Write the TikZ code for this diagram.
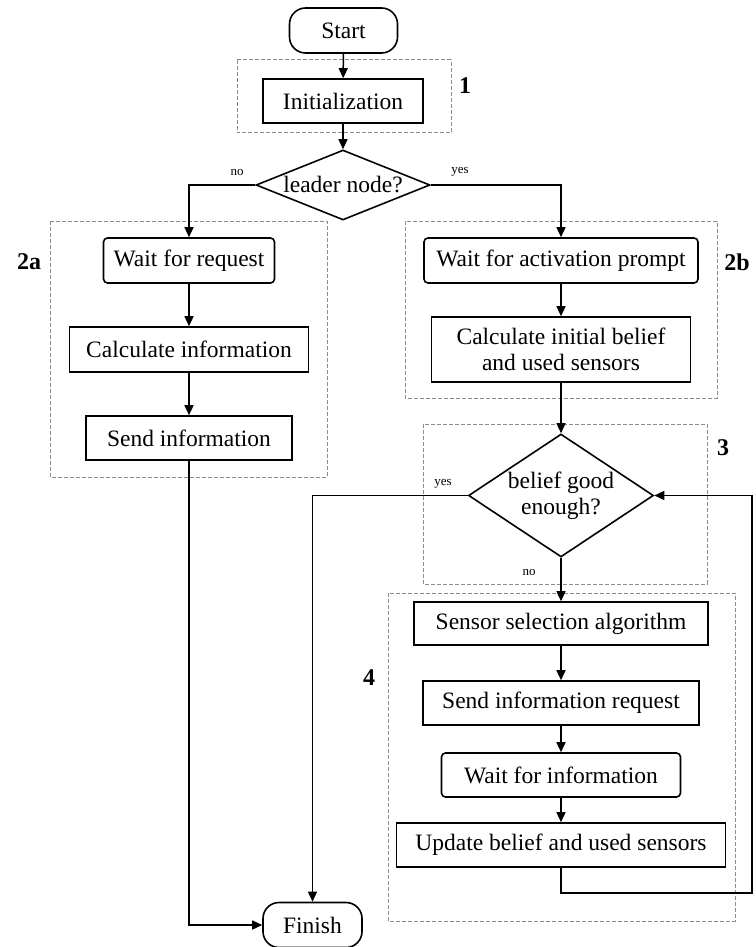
\documentclass[tikz,border=0pt]{standalone}
\usepackage{fontspec}
\setmainfont{Liberation Serif}
\usetikzlibrary{arrows.meta,shapes.geometric}
\begin{document}
\begin{tikzpicture}[x=1pt,y=-1pt,
  every node/.style={font=\fontsize{23.5}{26}\selectfont},
  proc/.style={draw,line width=1.6pt,inner sep=0pt,align=center},
  rproc/.style={proc,rounded corners=4pt},
  term/.style={proc,rounded corners=16pt},
  decision/.style={draw,line width=1.6pt,diamond,inner sep=0pt,align=center},
  flow/.style={line width=1.5pt,-{Triangle[length=10pt,width=9pt]}},
  groupbox/.style={draw=black!45,line width=1pt,dash pattern=on 4pt off 2pt},
  grouplabel/.style={font=\fontsize{24}{26}\selectfont\bfseries},
  answer/.style={font=\fontsize{13}{14}\selectfont}]
\useasboundingbox (0,0) rectangle (755,947);

% groups
\draw[groupbox] (237,60) rectangle (451,133);
\draw[groupbox] (50,221) rectangle (327,477);
\draw[groupbox] (405,221) rectangle (717,398);
\draw[groupbox] (423,424) rectangle (707,584);
\draw[groupbox] (388,593) rectangle (735,921);

\node[grouplabel] (l1) at (465,86) {1};
\node[grouplabel] (l2a) at (29,262) {2a};
\node[grouplabel] (l2b) at (737,262) {2b};
\node[grouplabel] (l3) at (723,448) {3};
\node[grouplabel] (l4) at (369,678) {4};

% nodes
\node[term,minimum width=108pt,minimum height=45pt] (start) at (343.5,30.5) {Start};
\node[proc,minimum width=160pt,minimum height=44pt] (init) at (343,101) {Initialization};
\node[decision,minimum width=174pt,minimum height=70pt,shape aspect=2.49] (leader) at (343,185) {leader node?};

\node[rproc,minimum width=171pt,minimum height=45pt] (wreq) at (189,260.5) {Wait for request};
\node[proc,minimum width=239pt,minimum height=45pt] (calcinfo) at (189,349.5) {Calculate information};
\node[proc,minimum width=206pt,minimum height=44pt] (sendinfo) at (189,438) {Send information};

\node[rproc,minimum width=274pt,minimum height=45pt] (wact) at (561,260.5) {Wait for activation prompt};
\node[proc,minimum width=259pt,minimum height=65pt] (calcinit) at (561,349.5) {Calculate initial belief\\and used sensors};

\node[decision,minimum width=185pt,minimum height=123pt,shape aspect=1.5] (belief) at (561,495.5) {belief good\\enough?};

\node[proc,minimum width=294pt,minimum height=43pt] (ssa) at (561,623.5) {Sensor selection algorithm};
\node[proc,minimum width=276pt,minimum height=44pt] (sir) at (561,703) {Send information request};
\node[rproc,minimum width=239pt,minimum height=44pt] (wfi) at (561,775) {Wait for information};
\node[proc,minimum width=329pt,minimum height=44pt] (upd) at (561,845) {Update belief and used sensors};

\node[term,minimum width=99pt,minimum height=45pt] (finish) at (312.5,925) {Finish};

\coordinate (loopc) at (752,893);

% answers
\node[answer] (no1) at (237,172) {no};
\node[answer] (yes1) at (460,172) {yes};
\node[answer] (yes2) at (443,484) {yes};
\node[answer] (no2) at (529,572) {no};

% connectors
\draw[flow] (start) -- (init);
\draw[flow] (init) -- (leader);
\draw[flow] (leader.west) -| (wreq.north);
\draw[flow] (leader.east) -| (wact.north);
\draw[flow] (wreq) -- (calcinfo);
\draw[flow] (calcinfo) -- (sendinfo);
\draw[flow] (sendinfo.south) |- (finish.west);
\draw[flow] (wact) -- (calcinit);
\draw[flow] (calcinit) -- (belief);
\draw[flow] (belief.west) -| (finish.north);
\draw[flow] (belief) -- (ssa);
\draw[flow] (ssa) -- (sir);
\draw[flow] (sir) -- (wfi);
\draw[flow] (wfi) -- (upd);
\draw[flow] (upd.south) |- (loopc) |- (belief.east);
\end{tikzpicture}
\end{document}
